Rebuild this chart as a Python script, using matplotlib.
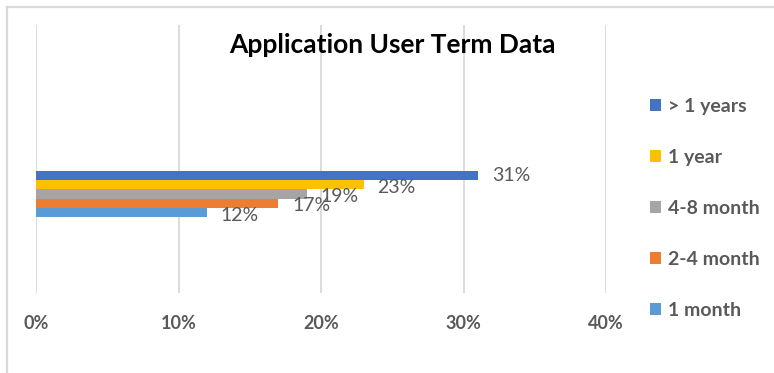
import numpy as np
import matplotlib.pyplot as plt
from matplotlib.patches import Patch
from matplotlib.lines import Line2D

plt.rcParams['font.family'] = ['Lato', 'DejaVu Sans']

# user term groups, top bar first
terms = ['> 1 years', '1 year', '4-8 month', '2-4 month', '1 month']
shares = [31, 23, 19, 17, 12]
colors = ['#4472C4', '#FFC000', '#A5A5A5', '#ED7D31', '#5B9BD5']
xticks = [0, 10, 20, 30, 40]
xtick_labels = ['0%', '10%', '20%', '30%', '40%']

W, H = 774, 373
fig = plt.figure(figsize=(W / 100, H / 100), dpi=100)

# chart frame (only top and left edges fall inside the image)
fig.add_artist(Line2D([7 / W, 1], [1 - 7 / H, 1 - 7 / H], color='#D9D9D9', lw=1.6))
fig.add_artist(Line2D([7 / W, 7 / W], [0, 1 - 7 / H], color='#D9D9D9', lw=1.6))

ax = fig.add_axes([36 / W, 1 - 293 / H, (606 - 36) / W, 268 / H])

ypos = np.arange(len(terms))[::-1] - 2
ax.barh(ypos, shares, height=1.0, color=colors, zorder=3)

for i, (y, v) in enumerate(zip(ypos, shares)):
    dy = 0 if i == 0 else -2
    ax.annotate('{}%'.format(v), xy=(v, y), xytext=(10, dy),
                textcoords='offset points', va='center', ha='left',
                fontsize=14, color='#595959', zorder=4)

ax.set_xlim(0, 40)
ax.set_ylim(-10.76, 18.37)
ax.set_xticks(xticks)
ax.set_xticklabels(xtick_labels, fontsize=13, fontweight='bold', color='#595959')
ax.set_yticks([])
ax.tick_params(axis='x', length=0, pad=16)
ax.grid(axis='x', color='#D9D9D9', lw=1.3, zorder=0)
for s in ax.spines.values():
    s.set_visible(False)

fig.text(392 / W, 1 - 45 / H, 'Application User Term Data', ha='center', va='center',
         fontsize=19, fontweight='bold', color='black')

handles = [Patch(facecolor=c, edgecolor='none') for c in colors]
leg = fig.legend(handles, terms, loc='upper left',
                 bbox_to_anchor=(650 / W, 1 - 98 / H), frameon=False,
                 prop={'size': 14, 'weight': 'bold'},
                 labelspacing=1.75, handlelength=0.55, handleheight=0.55,
                 handletextpad=0.35, borderpad=0, borderaxespad=0)
for t in leg.get_texts():
    t.set_color('#595959')

fig.savefig('out.png', dpi=100)
